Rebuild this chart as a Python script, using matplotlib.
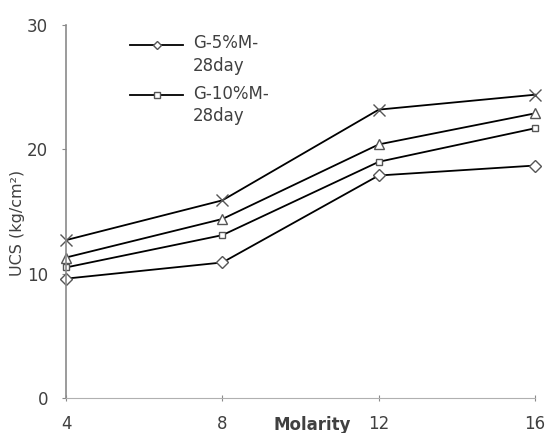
import matplotlib
matplotlib.use("Agg")
import matplotlib.pyplot as plt
from matplotlib.legend_handler import HandlerLine2D

# molarity vs UCS values
molarity = [4, 8, 12, 16]
ucs_5 = [9.6, 10.9, 17.9, 18.7]     # diamond
ucs_10 = [10.5, 13.1, 19.0, 21.7]   # square
ucs_tri = [11.3, 14.4, 20.4, 22.9]  # triangle
ucs_x = [12.7, 15.9, 23.2, 24.4]    # cross

labels = ["G-5%M-\n28day", "G-10%M-\n28day"]
yticks = [0, 10, 20, 30]
xticks = [4, 8, 12, 16]

FS = 12


class TopLineHandler(HandlerLine2D):
    # put the legend line next to the first line of a 2-line label
    def create_artists(self, legend, orig_handle, xdescent, ydescent,
                       width, height, fontsize, trans):
        shift = 0.65 * fontsize
        return super().create_artists(legend, orig_handle, xdescent,
                                      ydescent - 2 * shift, width, height,
                                      fontsize, trans)


fig = plt.figure(figsize=(5.46, 4.33), dpi=100)
ax = fig.add_axes([0.121, 0.081, 0.859, 0.861])

grey = "#404040"
mk = dict(color="black", lw=1.3, markersize=7, markerfacecolor="white",
          markeredgecolor="#555555", markeredgewidth=1.0, clip_on=False)

ax.plot(molarity, ucs_5, marker="D", **{**mk, "markersize": 6})
ax.plot(molarity, ucs_10, marker="s", **{**mk, "markersize": 5})
ax.plot(molarity, ucs_tri, marker="^", **mk)
ax.plot(molarity, ucs_x, marker="x", **{**mk, "markersize": 8})

ax.set_xlim(4, 16)
ax.set_ylim(0, 30)
ax.set_xticks(xticks)
ax.set_yticks(yticks)

for s in ["top", "right"]:
    ax.spines[s].set_visible(False)
ax.spines["left"].set_color("#8a8a8a")
ax.spines["bottom"].set_color("#b0b0b0")
ax.spines["left"].set_linewidth(1.2)
ax.tick_params(axis="both", colors="#8a8a8a", labelcolor=grey, labelsize=FS, length=3)
ax.tick_params(axis="y", pad=10)
ax.tick_params(axis="x", direction="inout", length=5, pad=10)

ax.set_ylabel("UCS (kg/cm²)", fontsize=11.5, color=grey)
ax.yaxis.set_label_coords(-0.087, 0.47)
ax.text(10.3, -1.45, "Molarity", fontsize=FS, fontweight="bold", color=grey,
        ha="center", va="top", clip_on=False)

# legend only lists the first two series, as in the original
h1, = ax.plot([], [], marker="D", **{**mk, "markersize": 4})
h2, = ax.plot([], [], marker="s", **{**mk, "markersize": 4})
leg = ax.legend([h1, h2], labels, loc="upper left", bbox_to_anchor=(0.136, 0.975),
                frameon=False, fontsize=FS, handlelength=3.2, labelcolor=grey,
                labelspacing=0.6, handletextpad=0.6, borderpad=0, borderaxespad=0,
                handler_map={h1: TopLineHandler(), h2: TopLineHandler()})
for t in leg.get_texts():
    t.set_linespacing(1.3)

fig.savefig("out.png", dpi=100)
